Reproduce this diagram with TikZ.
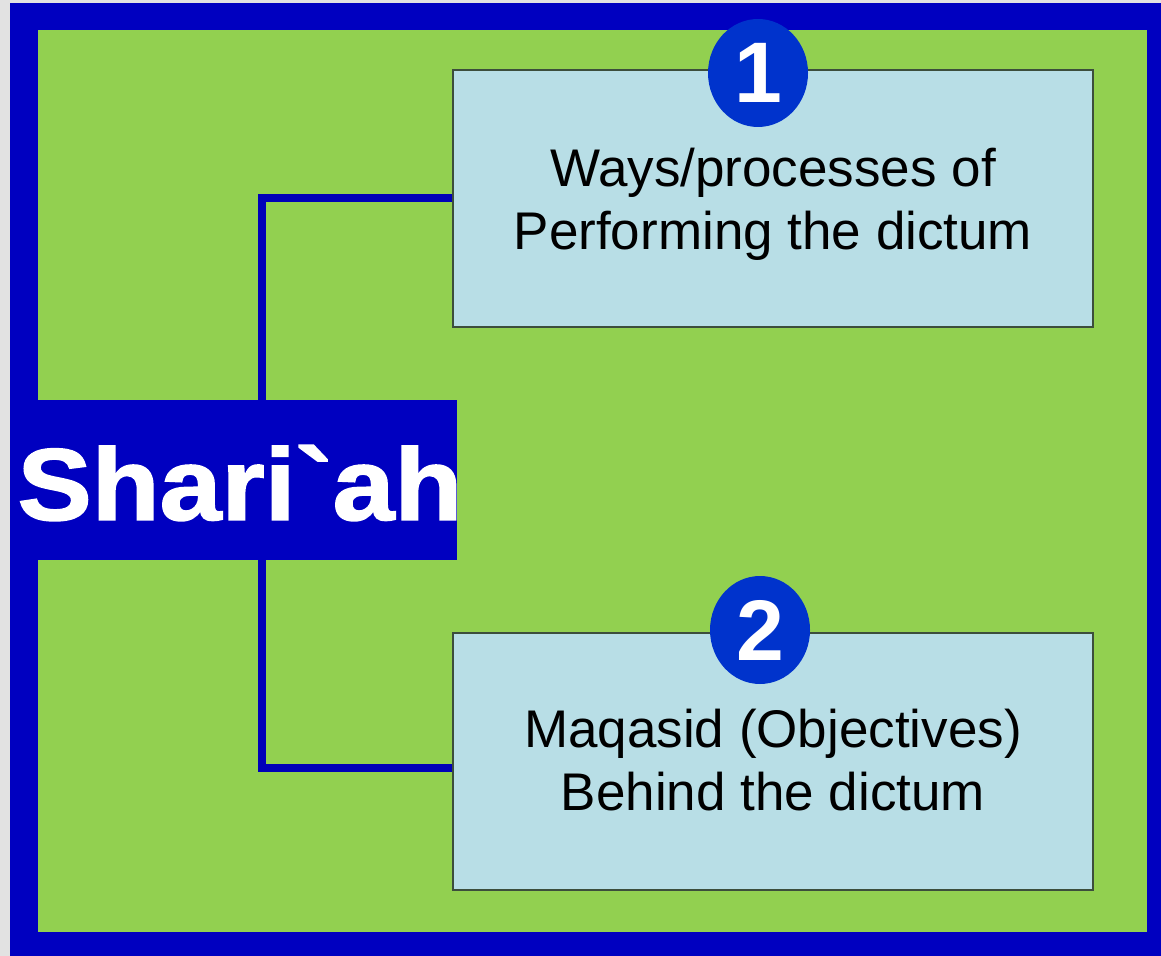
\documentclass[tikz,border=0pt]{standalone}
\usepackage{fontspec}
\setmainfont{Liberation Sans}
\newfontfamily\heavyfont[BoldFeatures={FakeBold=1.6}]{Liberation Sans}
\usepackage{graphicx}
\usepackage{xcolor}
\usepackage{tikz}
\usetikzlibrary{shapes.geometric,positioning}
\definecolor{framegray}{RGB}{226,226,226}
\definecolor{frameblue}{RGB}{0,0,192}
\definecolor{fieldgreen}{RGB}{146,208,80}
\definecolor{boxblue}{RGB}{184,222,230}
\definecolor{boxline}{RGB}{60,78,60}
\definecolor{badgeblue}{RGB}{0,51,204}
\definecolor{linkblue}{RGB}{0,0,185}
\newcommand\boxtext[2]{\raisebox{#1}[\height][\depth]{\begin{tabular}{@{}c@{}}#2\end{tabular}}}

\begin{document}
\begin{tikzpicture}[
  x=0.5pt, y=-0.5pt,
  box/.style={rectangle, draw=boxline, line width=1pt, fill=boxblue,
              minimum width=320pt, minimum height=128.5pt,
              font=\fontsize{26.5}{31.7}\selectfont},
  shbox/.style={rectangle, fill=frameblue, inner sep=0pt,
                minimum width=209.5pt, minimum height=80pt,
                text=white, font=\fontsize{51}{60}\selectfont\heavyfont\bfseries},
  badge/.style={ellipse, fill=badgeblue, inner sep=0pt,
                minimum width=50pt, minimum height=54pt,
                text=white, font=\fontsize{43}{43}\selectfont\bfseries},
  link/.style={linkblue, line width=4pt}
]
\useasboundingbox (0,0) rectangle (1161,956);

%% Frame
\fill[framegray] (0,0) rectangle (1161,956);
\fill[frameblue] (10,3) rectangle (1161,956);
\fill[fieldgreen] (38,30) rectangle (1147,932);

%% Boxes
\node[box] (ways) at (773,198.5)
  {\boxtext{-3.5pt}{Ways/processes of\\Performing the dictum}};
\node[box] (maqasid) at (773,761.5)
  {\boxtext{-2.5pt}{Maqasid (Objectives)\\Behind the dictum}};

%% Shari`ah
\node[shbox] (shariah) at (247.5,480)
  {\makebox[0pt]{\hspace*{-7.5pt}\raisebox{-1.5pt}[\height][\depth]{\scalebox{1.09}[1]{Shari\textasciigrave ah}}}};

%% Connectors
\draw[link] ([xshift=7.25pt]shariah.north) |- (ways.west);
\draw[link] ([xshift=7.25pt]shariah.south) |- ([yshift=-3pt]maqasid.west);

%% Badges
\node[badge] (one) at (758,73) {1};
\node[badge] (two) at (760,630) {2};

\end{tikzpicture}
\end{document}
